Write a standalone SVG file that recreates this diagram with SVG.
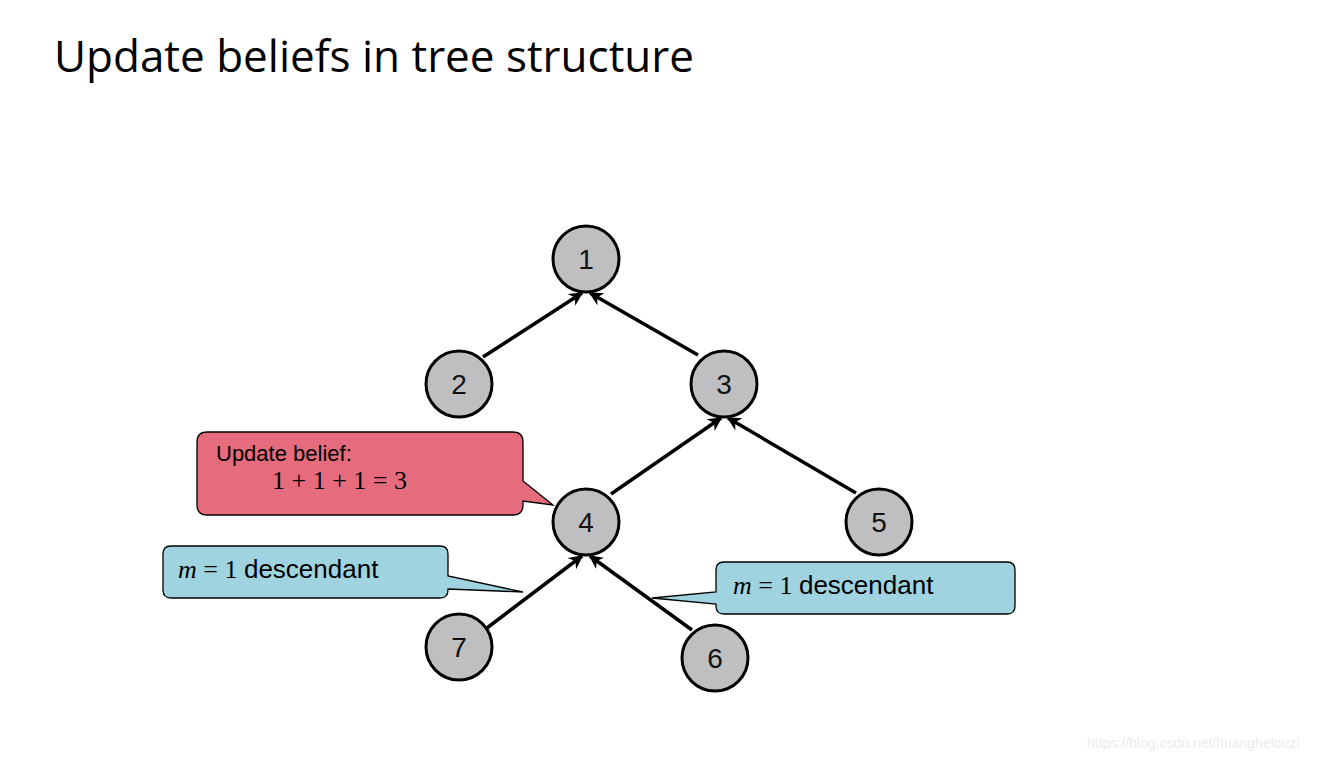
<svg xmlns="http://www.w3.org/2000/svg" width="1339" height="760" viewBox="0 0 1339 760">
<style>
.n circle{fill:#bfbfc1;stroke:#000;stroke-width:3}
.n text{font-family:"Liberation Sans",Arial,sans-serif;font-size:28px;text-anchor:middle;fill:#111}
.e line{stroke:#000;stroke-width:3.5;marker-end:url(#ah)}
.c{stroke:#000;stroke-width:1.3}
.t{font-family:"Liberation Sans",Arial,sans-serif;fill:#000}
.m{font-family:"Liberation Serif","Times New Roman",serif;fill:#000}
</style>
<defs><marker id="ah" viewBox="0 0 10 10" refX="9" refY="5" markerWidth="4" markerHeight="4" orient="auto" markerUnits="strokeWidth"><path d="M0,0 L10,5 L0,10 L3,5 z" fill="#000"/></marker></defs>
<rect width="1339" height="760" fill="#fff"/>
<text x="54" y="72" font-family="'Open Sans','Noto Sans',sans-serif" font-size="44" fill="#000">Update beliefs in tree structure</text>
<g class="e" id="edges">
<line x1="483" y1="357" x2="582" y2="293"/>
<line x1="698" y1="355" x2="590" y2="293"/>
<line x1="611" y1="494" x2="721" y2="418"/>
<line x1="856" y1="493" x2="728" y2="418"/>
<line x1="483" y1="631" x2="582" y2="556"/>
<line x1="692" y1="630" x2="590" y2="556"/>
</g>
<g class="n" id="n1"><circle cx="586" cy="259" r="33"/><text x="586" y="269">1</text></g>
<g class="n" id="n2"><circle cx="459" cy="384" r="33"/><text x="459" y="394">2</text></g>
<g class="n" id="n3"><circle cx="724" cy="384" r="33"/><text x="724" y="394">3</text></g>
<g class="n" id="n4"><circle cx="586" cy="522" r="33"/><text x="586" y="532">4</text></g>
<g class="n" id="n5"><circle cx="879" cy="522" r="33"/><text x="879" y="532">5</text></g>
<g class="n" id="n7"><circle cx="459" cy="647" r="33"/><text x="459" y="657">7</text></g>
<g class="n" id="n6"><circle cx="715" cy="658" r="33"/><text x="715" y="668">6</text></g>
<g id="callout-red">
<path class="c" fill="#e66b7c" d="M207,432 H513 Q523,432 523,442 V481 L553,505 L523,501 V505 Q523,515 513,515 H207 Q197,515 197,505 V442 Q197,432 207,432 Z"/>
<text class="t" x="216" y="461" font-size="22">Update belief:</text>
<text class="m" x="272" y="489" font-size="26">1 + 1 + 1 = 3</text>
</g>
<g id="callout-left">
<path class="c" fill="#9fd3e0" d="M171,546 H440 Q448,546 448,554 V576 L523,592 L448,589 V590 Q448,598 440,598 H171 Q163,598 163,590 V554 Q163,546 171,546 Z"/>
<text x="178" y="578" font-size="26"><tspan class="m" font-style="italic">m</tspan><tspan class="m"> = 1 </tspan><tspan class="t" font-size="26">descendant</tspan></text>
</g>
<g id="callout-right">
<path class="c" fill="#9fd3e0" d="M724,562 H1007 Q1015,562 1015,570 V606 Q1015,614 1007,614 H724 Q716,614 716,606 V604 L652,598 L716,592 V570 Q716,562 724,562 Z"/>
<text x="733" y="594" font-size="26"><tspan class="m" font-style="italic">m</tspan><tspan class="m"> = 1 </tspan><tspan class="t" font-size="26">descendant</tspan></text>
</g>
<text x="1087" y="748" font-family="'Liberation Sans',Arial,sans-serif" font-size="14" fill="#ececec">https://blog.csdn.net/huanghelouzi</text>
</svg>
